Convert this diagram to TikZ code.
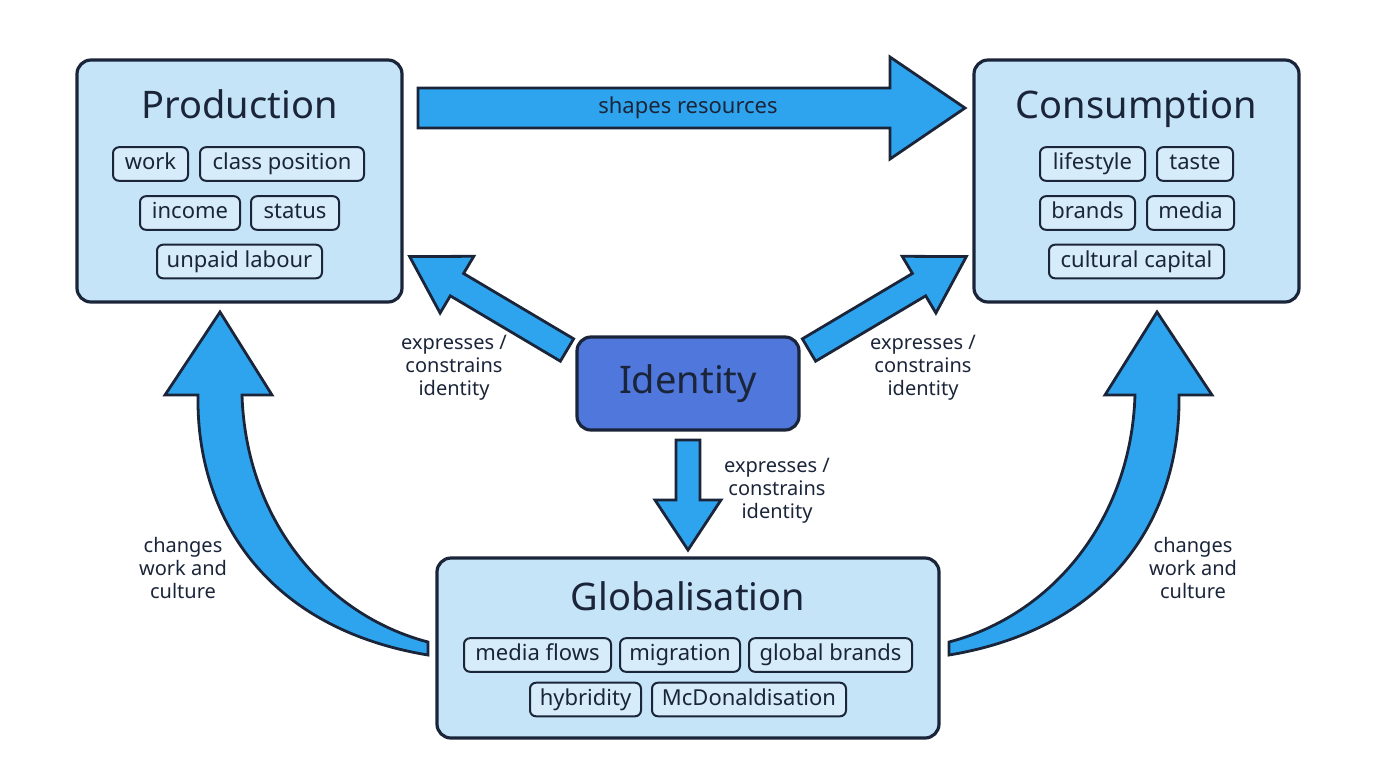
\documentclass[tikz,border=0pt]{standalone}
\usepackage{fontspec}
\setmainfont{Noto Sans}
\definecolor{boxfill}{HTML}{C6E4F8}
\definecolor{tagfill}{HTML}{D6ECFA}
\definecolor{ink}{HTML}{1B2539}
\definecolor{arrowblue}{HTML}{2FA4EE}
\definecolor{idfill}{HTML}{5078DC}
\tikzset{
  bigbox/.style={draw=ink, line width=1.6pt, fill=boxfill, rounded corners=7pt},
  tag/.style={draw=ink, line width=1pt, fill=tagfill, rounded corners=3pt, inner xsep=3pt, inner ysep=3pt, text height=8.2pt, text depth=2.6pt, text=ink, font=\fontsize{11}{12}\selectfont},
  title/.style={text=ink, text height=13.5pt, text depth=3.5pt, font=\fontsize{19}{22}\selectfont},
  note/.style={text=ink, align=center, font=\fontsize{10}{11.5}\selectfont},
  arrowbody/.style={draw=ink, line width=1.4pt, fill=arrowblue, line join=miter}
}
% block arrow: x, y, angle, length, shaft half, head half, head length
\newcommand{\blockarrow}[7]{%
  \draw[arrowbody, shift={(#1,#2)}, rotate=#3] (0,-#5) -- (#4-#7,-#5) -- (#4-#7,-#6) -- (#4,0) -- (#4-#7,#6) -- (#4-#7,#5) -- (0,#5) -- cycle;}
\begin{document}
\begin{tikzpicture}[x=0.5pt,y=-0.5pt]
  \useasboundingbox (0,0) rectangle (1376,768);

  % Main boxes
  \draw[bigbox] (77,60) rectangle (402,302);
  \node[title] (prod) at (239.5,108) {Production};
  \draw[bigbox] (974,60) rectangle (1299,302);
  \node[title] (cons) at (1136.5,108) {Consumption};
  \draw[bigbox] (437,558) rectangle (939,738);
  \node[title] (glob) at (688,600) {Globalisation};
  \draw[draw=ink, line width=1.6pt, fill=idfill, rounded corners=7pt] (577,337) rectangle (799,430);
  \node[title] (ident) at (688,383.5) {Identity};

  % Tags
  \node[tag, minimum width=37.5pt] (work) at (150.5,164) {work};
  \node[tag, minimum width=82pt] (class) at (282,164) {class position};
  \node[tag, minimum width=50pt] (income) at (190,213) {income};
  \node[tag, minimum width=44pt] (status) at (295,213) {status};
  \node[tag, minimum width=82.5pt] (unpaid) at (239.5,261.5) {unpaid labour};

  \node[tag, minimum width=52.5pt] (life) at (1092.5,164) {lifestyle};
  \node[tag, minimum width=38pt] (taste) at (1195,164) {taste};
  \node[tag, minimum width=47.5pt] (brands) at (1087.5,213) {brands};
  \node[tag, minimum width=43.5pt] (media) at (1190.5,213) {media};
  \node[tag, minimum width=87.5pt] (capital) at (1136.5,261.5) {cultural capital};

  \node[tag, minimum width=73.5pt] (flows) at (537.5,655) {media flows};
  \node[tag, minimum width=60pt] (migr) at (680,655) {migration};
  \node[tag, minimum width=81.5pt] (gbrands) at (830.5,655) {global brands};
  \node[tag, minimum width=55.5pt] (hybrid) at (585.5,699.5) {hybridity};
  \node[tag, minimum width=97pt] (mcd) at (749,699.5) {McDonaldisation};

  % Block arrows
  \blockarrow{418}{108}{0}{547}{20}{51}{75}
  \node[text=ink, font=\fontsize{11}{12}\selectfont] (shapes) at (688,108) {shapes resources};
  \blockarrow{567}{350}{149.3}{183}{13}{33}{55}
  \blockarrow{809}{350}{30.7}{183}{13}{33}{55}
  \blockarrow{688}{440}{-90}{110}{12}{33}{50}

  % Curved arrows
  \draw[arrowbody] (428,655) .. controls (265,628) and (196,515) .. (198,395) -- (165,395) -- (220,312) -- (272,395) -- (242,395) .. controls (246,520) and (325,615) .. (428,642) -- cycle;
  \begin{scope}[shift={(1377,0)}, xscale=-1]
    \draw[arrowbody] (428,655) .. controls (265,628) and (196,515) .. (198,395) -- (165,395) -- (220,312) -- (272,395) -- (242,395) .. controls (246,520) and (325,615) .. (428,642) -- cycle;
  \end{scope}

  % Labels
  \node[note] (lblL) at (454,368) {expresses /\\constrains\\identity};
  \node[note] (lblR) at (923,368) {expresses /\\constrains\\identity};
  \node[note] (lblD) at (777,491) {expresses /\\constrains\\identity};
  \node[note] (chL) at (183,568) {changes\\work and\\culture};
  \node[note] (chR) at (1193,568) {changes\\work and\\culture};
\end{tikzpicture}
\end{document}
